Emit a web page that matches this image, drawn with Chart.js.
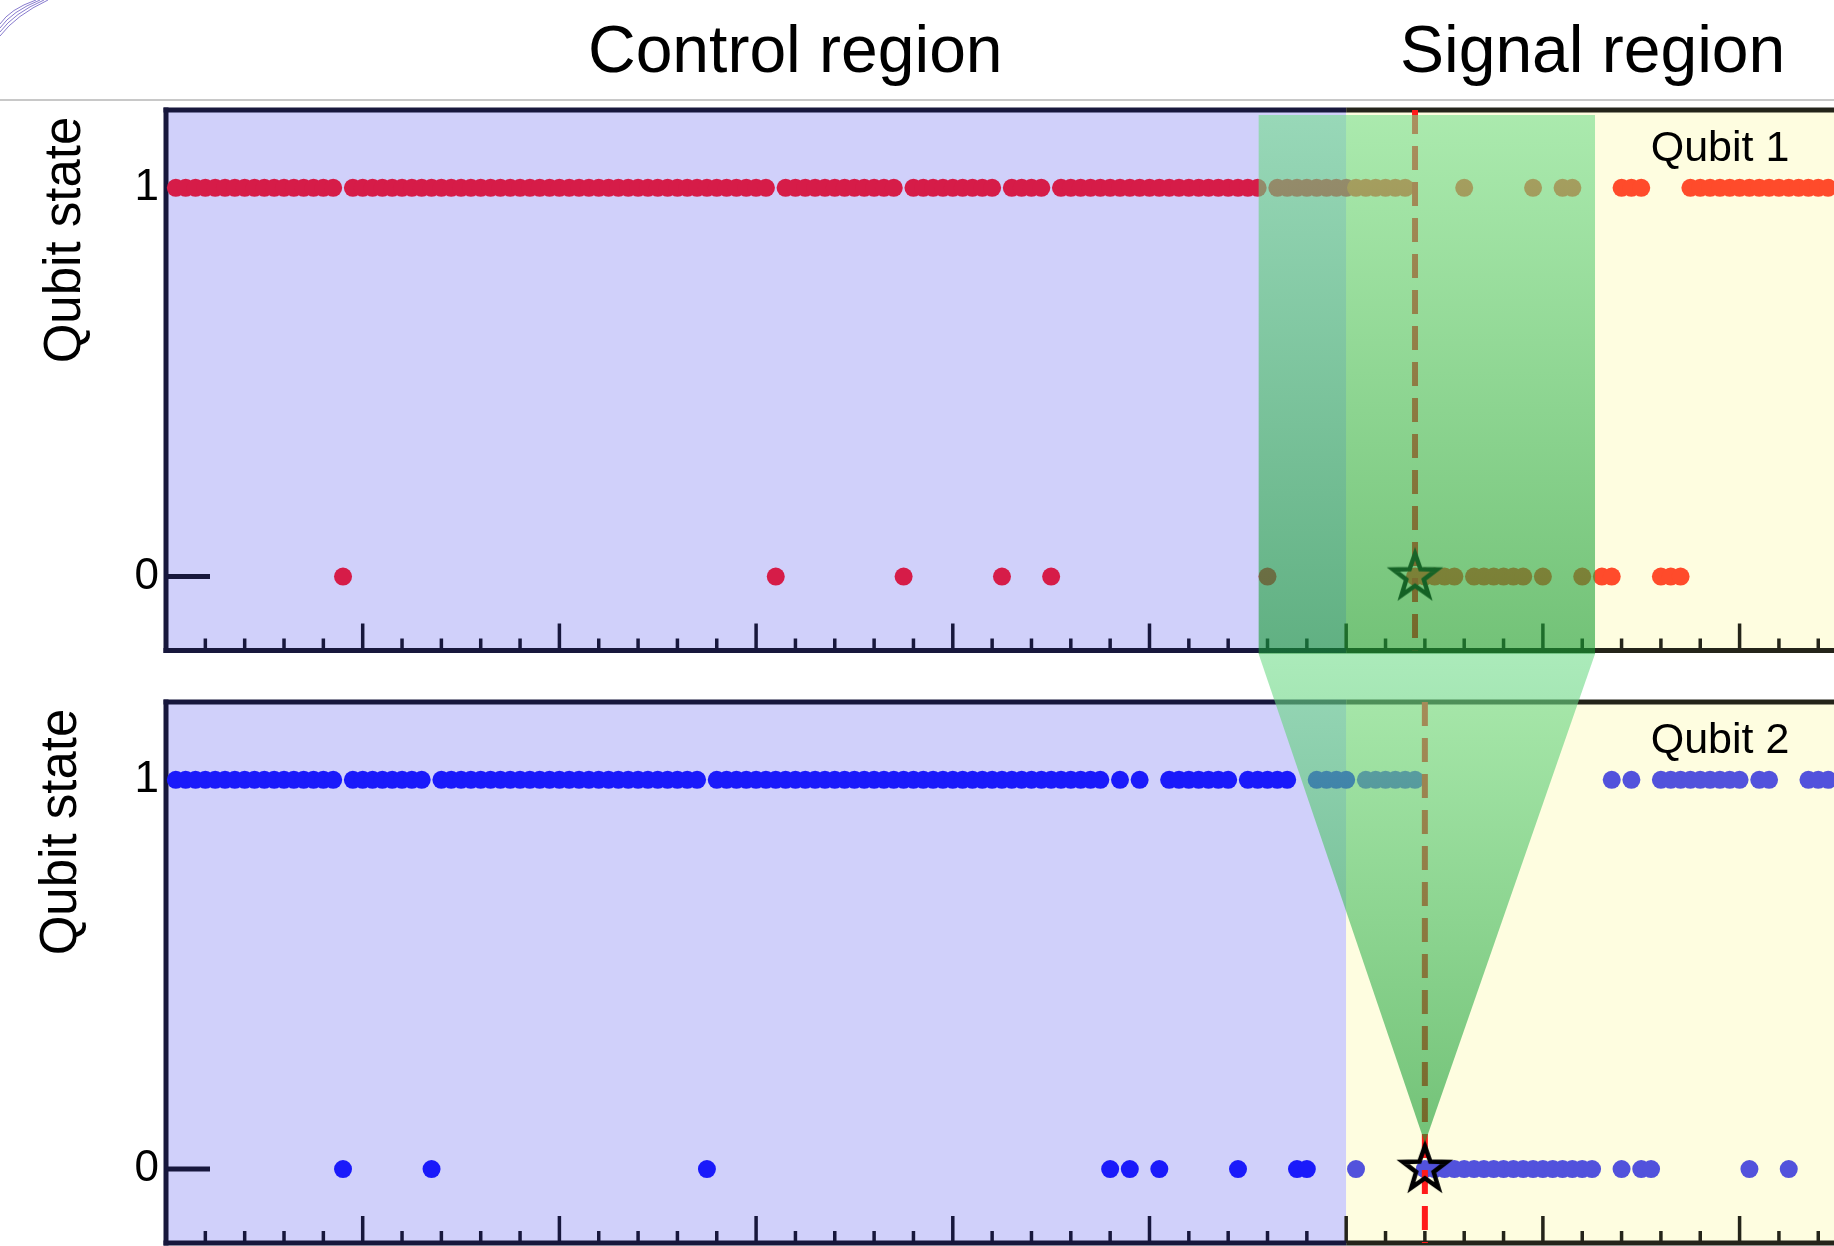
<!DOCTYPE html>
<html>
<head>
<meta charset="utf-8">
<script src="https://cdn.jsdelivr.net/npm/chart.js@4.4.1/dist/chart.umd.min.js"></script>
<style>
  html, body { margin: 0; padding: 0; background: #fff; }
  #page { position: relative; width: 1834px; height: 1246px; overflow: hidden; background: #fff;
          font-family: "Liberation Sans", Arial, Helvetica, sans-serif; }
  .region-title { position: absolute; top: 16px; font-size: 66px; line-height: 66px; color: #000; white-space: nowrap; }
  #rule { position: absolute; left: 0; top: 99px; width: 1834px; height: 0; border-top: 2px solid #c8c8c8; }
  #swoosh { position: absolute; left: 0; top: 0; }
  canvas { position: absolute; left: 0; }
</style>
</head>
<body>
<div id="page">
  <svg id="swoosh" width="60" height="50">
    <g fill="none" stroke="#7a6cc8" stroke-width="0.9">
      <path d="M0,36 Q16,15 48,0"/>
      <path d="M0,32 Q14,13 44,0"/>
      <path d="M0,28 Q12,11 40,0"/>
      <path d="M0,24 Q10,9 36,0"/>
    </g>
  </svg>
  <div class="region-title" style="left:588px">Control region</div>
  <div class="region-title" style="left:1400px">Signal region</div>
  <div id="rule"></div>
  <canvas id="chart-q1" width="1834" height="554" style="top:100px"></canvas>
  <canvas id="chart-q2" width="1834" height="592" style="top:654px"></canvas>
</div>
<script>
// ── DATA ──
// one point per shot (shot 1, 2, 3 ...): measured state 1 or 0, null = no point
const qubit1States = [
  1,1,1,1,1,1,1,1,1,1,1,1,1,1,1,1,1,0,1,1,          // 1–20
  1,1,1,1,1,1,1,1,1,1,1,1,1,1,1,1,1,1,1,1,          // 21–40
  1,1,1,1,1,1,1,1,1,1,1,1,1,1,1,1,1,1,1,1,          // 41–60
  1,0,1,1,1,1,1,1,1,1,1,1,1,1,0,1,1,1,1,1,          // 61–80
  1,1,1,1,0,1,1,1,1,0,1,1,1,1,1,1,1,1,1,1,          // 81–100
  1,1,1,1,1,1,1,1,1,1,1,0,1,1,1,1,1,1,1,1,          // 101–120
  1,1,1,1,1,1,0,0,0,0,0,1,0,0,0,0,0,0,1,0,          // 121–140
  null,1,1,0,null,0,0,1,1,1,null,0,0,0,1,1,1,1,1,1, // 141–160
  1,1,1,1,1,1,1,1,1                                 // 161–169
];
const qubit2States = [
  1,1,1,1,1,1,1,1,1,1,1,1,1,1,1,1,1,0,1,1,          // 1–20
  1,1,1,1,1,1,0,1,1,1,1,1,1,1,1,1,1,1,1,1,          // 21–40
  1,1,1,1,1,1,1,1,1,1,1,1,1,1,0,1,1,1,1,1,          // 41–60
  1,1,1,1,1,1,1,1,1,1,1,1,1,1,1,1,1,1,1,1,          // 61–80
  1,1,1,1,1,1,1,1,1,1,1,1,1,1,1,0,1,0,1,null,       // 81–100
  0,1,1,1,1,1,1,1,0,1,1,1,1,1,0,0,1,1,1,1,          // 101–120
  0,1,1,1,1,1,1,0,0,0,0,0,0,0,0,0,0,0,0,0,          // 121–140
  0,0,0,0,0,null,1,0,1,0,0,1,1,1,1,1,1,1,1,1,       // 141–160
  0,1,1,null,0,null,1,1,1                           // 161–169
];
const markedShots = [127, 128];        // starred shot on qubit 1 / qubit 2
const signalStart = 120;               // control | signal region boundary
const zoomWindow = [111.1, 145.3];     // green window on qubit 1
const majorTicks = [0, 20, 40, 60, 80, 100, 120, 140, 160];
const stateTicks = [0, 1];

// ── RANGES & STYLE ──
const X_MIN = 0, X_MAX = 169.6;
const Y_MIN = -0.19, Y_MAX = 1.2;
const FONT = '"Liberation Sans", Arial, Helvetica, sans-serif';
const COLORS = {
  control: '#d0d0fa', signal: '#fefde0',
  frameControl: '#17173c', frameSignal: '#24241a',
  marker: '#ff1a1a',
  greenTop: 'rgba(115, 221, 140, 0.6)', greenBottom: 'rgba(22, 155, 50, 0.6)'
};

// ── STAR MARKER (pointStyle image) ──
function makeStar(r, lw) {
  const size = Math.ceil((r + lw * 2) * 2);
  const c = document.createElement('canvas');
  c.width = c.height = size;
  const g = c.getContext('2d');
  g.translate(size / 2, size / 2);
  g.beginPath();
  for (let i = 0; i < 10; i++) {
    const rad = i % 2 === 0 ? r : r * 0.4;
    const ang = -Math.PI / 2 + i * Math.PI / 5;
    g.lineTo(rad * Math.cos(ang), rad * Math.sin(ang));
  }
  g.closePath();
  g.lineWidth = lw;
  g.lineJoin = 'miter';
  g.strokeStyle = '#000';
  g.stroke();
  return c;
}
const starImg = makeStar(23, 4.5);

// ── GREEN OVERLAYS ──
function drawWindowBand(chart) {
  const { ctx, chartArea: a, scales: { x } } = chart;
  const x0 = x.getPixelForValue(zoomWindow[0]);
  const x1 = x.getPixelForValue(zoomWindow[1]);
  const top = a.top + 5, bottom = chart.height;
  const g = ctx.createLinearGradient(0, top, 0, bottom);
  g.addColorStop(0, COLORS.greenTop);
  g.addColorStop(1, COLORS.greenBottom);
  ctx.fillStyle = g;
  ctx.fillRect(x0, top, x1 - x0, bottom - top);
}

function drawFunnel(chart) {
  const { ctx, scales: { x, y } } = chart;
  const x0 = x.getPixelForValue(zoomWindow[0]);
  const x1 = x.getPixelForValue(zoomWindow[1]);
  const tipX = x.getPixelForValue(markedShots[1]);
  const tipY = y.getPixelForValue(0) - 26;
  const g = ctx.createLinearGradient(0, 0, 0, tipY);
  g.addColorStop(0, COLORS.greenTop);
  g.addColorStop(1, COLORS.greenBottom);
  ctx.fillStyle = g;
  ctx.beginPath();
  ctx.moveTo(x0, 0);
  ctx.lineTo(x1, 0);
  ctx.lineTo(tipX, tipY);
  ctx.closePath();
  ctx.fill();
}

// ── PANEL DECORATION PLUGIN ──
function seg(ctx, x0, y0, x1, y1) {
  ctx.beginPath(); ctx.moveTo(x0, y0); ctx.lineTo(x1, y1); ctx.stroke();
}

const panelDecor = {
  id: 'panelDecor',
  beforeDraw(chart) {
    const { ctx, chartArea: a, scales: { x } } = chart;
    const xs = x.getPixelForValue(signalStart);
    ctx.save();
    ctx.fillStyle = COLORS.control;
    ctx.fillRect(a.left, a.top, xs - a.left, a.bottom - a.top);
    ctx.fillStyle = COLORS.signal;
    ctx.fillRect(xs, a.top, a.right - xs, a.bottom - a.top);
    ctx.restore();
  },
  beforeDatasetsDraw(chart) {
    const { ctx, chartArea: a, scales: { x, y } } = chart;
    const xs = x.getPixelForValue(signalStart);
    const colorAt = px => (px < xs ? COLORS.frameControl : COLORS.frameSignal);
    ctx.save();
    ctx.lineCap = 'butt';

    // inside ticks on the bottom axis
    ctx.lineWidth = 3.5;
    for (let v = 4; v < X_MAX; v += 4) {
      const px = x.getPixelForValue(v);
      const len = majorTicks.includes(v) ? 27 : 12;
      ctx.strokeStyle = colorAt(px);
      seg(ctx, px, a.bottom, px, a.bottom - len);
    }

    // state ticks on the left axis
    ctx.lineWidth = 5;
    ctx.strokeStyle = COLORS.frameControl;
    stateTicks.forEach(v => {
      const py = y.getPixelForValue(v);
      seg(ctx, a.left, py, a.left + 44, py);
    });

    // frame (open on the right)
    [a.top, a.bottom].forEach(py => {
      ctx.strokeStyle = COLORS.frameControl;
      seg(ctx, a.left - 2.5, py, xs, py);
      ctx.strokeStyle = COLORS.frameSignal;
      seg(ctx, xs, py, a.right, py);
    });
    ctx.strokeStyle = COLORS.frameControl;
    seg(ctx, a.left, a.top - 2.5, a.left, a.bottom + 2.5);
    ctx.restore();
  },
  afterDatasetsDraw(chart, args, opts) {
    const { ctx, chartArea: a } = chart;
    ctx.save();
    if (opts.overlay === 'band') drawWindowBand(chart);
    if (opts.overlay === 'funnel') drawFunnel(chart);

    ctx.fillStyle = '#000';
    ctx.textBaseline = 'alphabetic';
    ctx.textAlign = 'center';
    ctx.font = '43px ' + FONT;
    ctx.fillText(opts.label, 1720, a.top + 51);

    ctx.font = '51px ' + FONT;
    ctx.translate(opts.titleX, a.top + 130);
    ctx.rotate(-Math.PI / 2);
    ctx.fillText('Qubit state', 0, 0);
    ctx.restore();
  }
};

// ── BUILD ONE PANEL ──
function buildPanel(canvasId, states, colors, starShot, decor, padding) {
  const points = states
    .map((s, i) => ({ x: i + 1, y: s }))
    .filter(p => p.y !== null);

  return new Chart(document.getElementById(canvasId), {
    type: 'scatter',
    data: {
      datasets: [
        {
          data: [{ x: starShot, y: 0 }],
          pointStyle: starImg,
          pointRadius: 10,
          order: 0
        },
        {
          data: [{ x: starShot, y: Y_MAX }, { x: starShot, y: Y_MIN }],
          showLine: true,
          borderColor: COLORS.marker,
          borderWidth: 6,
          borderDash: [24, 12],
          pointRadius: 0,
          order: 1
        },
        {
          data: points,
          pointRadius: 9,
          pointHoverRadius: 9,
          borderWidth: 0,
          backgroundColor: ctx => (ctx.raw && ctx.raw.x > signalStart ? colors[1] : colors[0]),
          order: 2
        }
      ]
    },
    options: {
      responsive: false,
      devicePixelRatio: 1,
      animation: false,
      events: [],
      layout: { padding: padding, autoPadding: false },
      scales: {
        x: { type: 'linear', min: X_MIN, max: X_MAX, display: false },
        y: {
          type: 'linear', min: Y_MIN, max: Y_MAX, position: 'left',
          afterBuildTicks: s => { s.ticks = stateTicks.map(v => ({ value: v })); },
          afterFit: s => { s.width = 166; s.paddingTop = 0; s.paddingBottom = 0; },
          grid: { display: false, drawTicks: false },
          border: { display: false },
          ticks: { color: '#000', padding: 7, font: { size: 44, family: FONT } }
        }
      },
      plugins: {
        legend: { display: false },
        tooltip: { enabled: false },
        panelDecor: decor
      }
    },
    plugins: [panelDecor]
  });
}

buildPanel('chart-q1', qubit1States, ['#d61c48', '#ff4b2b'], markedShots[0],
  { label: 'Qubit 1', titleX: 80, overlay: 'band' },
  { top: 10, bottom: 3.5, left: 0, right: 0 });

buildPanel('chart-q2', qubit2States, ['#1a1afa', '#5252dc'], markedShots[1],
  { label: 'Qubit 2', titleX: 76, overlay: 'funnel' },
  { top: 48, bottom: 3, left: 0, right: 0 });
</script>
</body>
</html>
